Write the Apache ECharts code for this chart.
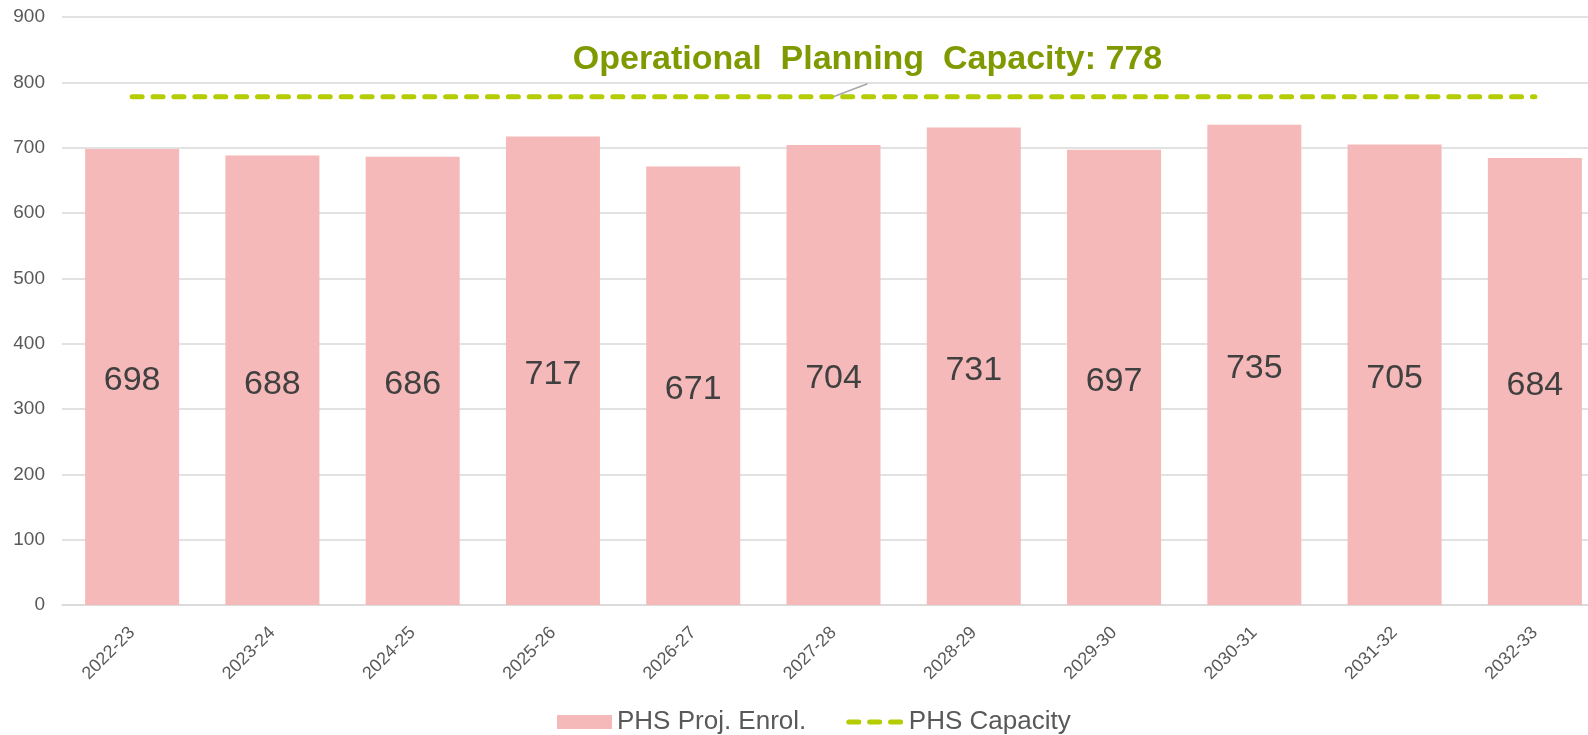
<!DOCTYPE html>
<html>
<head>
<meta charset="utf-8">
<script src="https://cdn.jsdelivr.net/npm/echarts@6/dist/echarts.min.js"></script>
<style>
  html, body { margin: 0; padding: 0; background: #fff; }
  #chartDiv { width: 1588px; height: 735px; }
</style>
</head>
<body>
<div id="chartDiv"></div>
<script>
// 学年
var years = ['2022-23', '2023-24', '2024-25', '2025-26', '2026-27', '2027-28',
    '2028-29', '2029-30', '2030-31', '2031-32', '2032-33'];
// 预计入学人数
var enrolment = [698, 688, 686, 717, 671, 704, 731, 697, 735, 705, 684];
// 容量
var capacity = [778, 778, 778, 778, 778, 778, 778, 778, 778, 778, 778];
var capacityLabelIndex = 5;
var yTicks = {min: 0, max: 900, interval: 100};

var font = 'Liberation Sans, Arial, sans-serif';
var lineColor = '#b4cc00';

/*
* 容量线数据，只在一个点上放标签
* */
function buildCapacityData() {
    return capacity.map(function (v, i) {
        if (i !== capacityLabelIndex) {
            return v;
        }
        return {
            value: v,
            symbol: 'circle',
            symbolSize: 1,
            label: {
                show: true,
                formatter: 'Operational  Planning  Capacity: {c}',
                fontFamily: font,
                fontSize: 34,
                fontWeight: 'bold',
                color: '#7f9a00',
                lineHeight: 48
            },
            labelLine: {
                show: true,
                length2: 0,
                lineStyle: {color: '#a6a6a6', width: 1.5}
            }
        };
    });
}

var chart = echarts.init(document.getElementById('chartDiv'));

var option = {
    animation: false,
    grid: {
        left: 62,
        top: 17,
        width: 1543,
        height: 588,
        outerBoundsMode: 'none',
        containLabel: false
    },
    legend: {
        left: 557,
        top: 709,
        padding: 0,
        itemWidth: 55,
        itemHeight: 14,
        itemGap: 40,
        textStyle: {fontFamily: font, fontSize: 26, color: '#595959'},
        data: [
            {name: 'PHS Proj. Enrol.', icon: 'rect'},
            {
                name: 'PHS Capacity',
                itemStyle: {opacity: 0},
                lineStyle: {width: 5, type: [10, 10.9], cap: 'round', color: lineColor}
            }
        ]
    },
    xAxis: {
        type: 'category',
        data: years,
        axisTick: {show: false},
        axisLine: {show: true, lineStyle: {color: '#d9d9d9', width: 1.5}},
        axisLabel: {
            interval: 0,
            rotate: 45,
            margin: 25,
            fontFamily: font,
            fontSize: 18,
            color: '#595959'
        }
    },
    yAxis: {
        type: 'value',
        min: yTicks.min,
        max: yTicks.max,
        interval: yTicks.interval,
        axisLine: {show: false},
        axisTick: {show: false},
        axisLabel: {
            margin: 17,
            fontFamily: font,
            fontSize: 19,
            color: '#595959'
        },
        splitLine: {lineStyle: {color: '#d9d9d9', width: 1.5}}
    },
    series: [
        {
            name: 'PHS Proj. Enrol.',
            type: 'bar',
            data: enrolment,
            barWidth: 94,
            itemStyle: {color: '#f4b9b8'},
            label: {
                show: true,
                position: 'inside',
                offset: [0, 4],
                fontFamily: font,
                fontSize: 34,
                color: '#404040'
            }
        },
        {
            name: 'PHS Capacity',
            type: 'line',
            data: buildCapacityData(),
            symbol: 'none',
            showSymbol: true,
            color: lineColor,
            itemStyle: {color: lineColor},
            lineStyle: {color: lineColor, width: 5, type: [10, 10.9], cap: 'round'},
            labelLayout: function (params) {
                return {
                    x: params.rect.x + params.rect.width / 2 + 34,
                    y: params.rect.y + params.rect.height / 2 - 37,
                    align: 'center',
                    verticalAlign: 'middle'
                };
            },
            z: 3
        }
    ]
};

chart.setOption(option);
</script>
</body>
</html>
